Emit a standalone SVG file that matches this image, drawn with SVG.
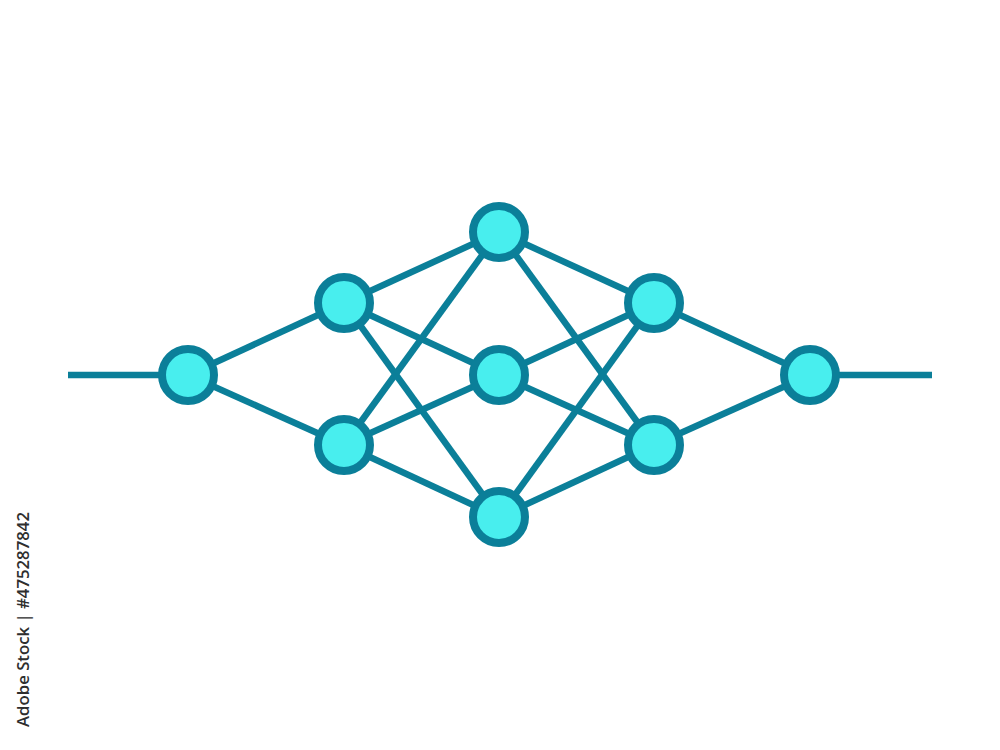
<svg xmlns="http://www.w3.org/2000/svg" width="1000" height="750" viewBox="0 0 1000 750">
<style>
.e{stroke:#0b7f99;stroke-width:6.5;fill:none}
.n{fill:#48eeee;stroke:#0b7f99;stroke-width:8}
.t{font-family:"Open Sans","DejaVu Sans",sans-serif;font-size:17px;font-weight:600;fill:#2e2e2e}
</style>
<rect width="1000" height="750" fill="#ffffff"/>
<g id="connectors">
<line class="e" x1="68" y1="375" x2="188" y2="375"/>
<line class="e" x1="810" y1="375" x2="932" y2="375"/>
<line class="e" x1="188" y1="375" x2="344" y2="303"/>
<line class="e" x1="188" y1="375" x2="344" y2="445"/>
<line class="e" x1="344" y1="303" x2="499" y2="232"/>
<line class="e" x1="344" y1="303" x2="499" y2="375"/>
<line class="e" x1="344" y1="303" x2="499" y2="517"/>
<line class="e" x1="344" y1="445" x2="499" y2="232"/>
<line class="e" x1="344" y1="445" x2="499" y2="375"/>
<line class="e" x1="344" y1="445" x2="499" y2="517"/>
<line class="e" x1="499" y1="232" x2="654" y2="303"/>
<line class="e" x1="499" y1="232" x2="654" y2="445"/>
<line class="e" x1="499" y1="375" x2="654" y2="303"/>
<line class="e" x1="499" y1="375" x2="654" y2="445"/>
<line class="e" x1="499" y1="517" x2="654" y2="303"/>
<line class="e" x1="499" y1="517" x2="654" y2="445"/>
<line class="e" x1="654" y1="303" x2="810" y2="375"/>
<line class="e" x1="654" y1="445" x2="810" y2="375"/>
</g>
<g id="n1"><circle class="n" cx="188" cy="375" r="26"/></g>
<g id="n2"><circle class="n" cx="344" cy="303" r="26"/></g>
<g id="n3"><circle class="n" cx="344" cy="445" r="26"/></g>
<g id="n4"><circle class="n" cx="499" cy="232" r="26"/></g>
<g id="n5"><circle class="n" cx="499" cy="375" r="26"/></g>
<g id="n6"><circle class="n" cx="499" cy="517" r="26"/></g>
<g id="n7"><circle class="n" cx="654" cy="303" r="26"/></g>
<g id="n8"><circle class="n" cx="654" cy="445" r="26"/></g>
<g id="n9"><circle class="n" cx="810" cy="375" r="26"/></g>
<text class="t" transform="translate(29,727) rotate(-90)" textLength="215" lengthAdjust="spacingAndGlyphs">Adobe Stock | #475287842</text>
</svg>
